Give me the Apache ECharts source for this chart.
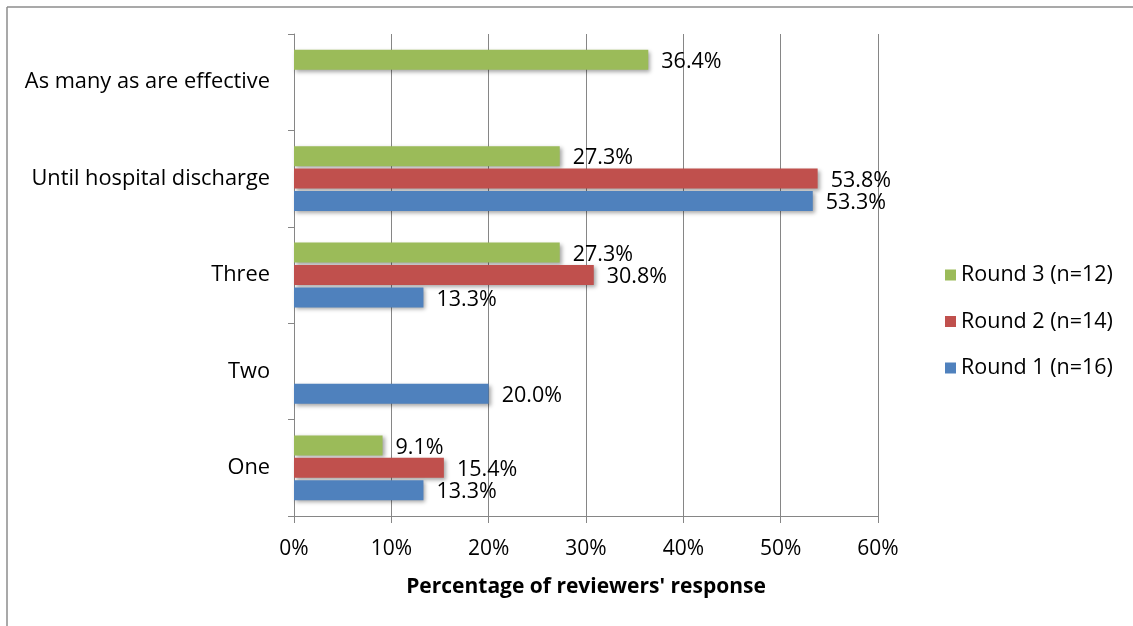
<!DOCTYPE html>
<html>
<head>
<meta charset="utf-8">
<script src="https://cdn.jsdelivr.net/npm/echarts@6/dist/echarts.min.js"></script>
<style>html,body{margin:0;padding:0;background:#fff}#c{width:1133px;height:626px}</style>
</head>
<body>
<div id="c"></div>
<script>
const categories = ['One', 'Two', 'Three', 'Until hospital discharge', 'As many as are effective'];
const round3 = [9.1, null, 27.3, 27.3, 36.4];
const round2 = [15.4, null, 30.8, 53.8, null];
const round1 = [13.3, 20.0, 13.3, 53.3, null];
const seriesNames = ['Round 3 (n=12)', 'Round 2 (n=14)', 'Round 1 (n=16)'];
const colors = ['#9BBB59', '#C0504D', '#4F81BD'];
const xTicks = { min: 0, max: 60, interval: 10 };

const FONT = 'Open Sans';
const chart = echarts.init(document.getElementById('c'));
function mk(name, data, color) {
  return {
    name: name, type: 'bar', data: data, barWidth: 20, barGap: '12%',
    itemStyle: { color: color, shadowColor: 'rgba(0,0,0,0.35)', shadowBlur: 4, shadowOffsetX: 2, shadowOffsetY: 2 },
    label: {
      show: true, position: 'right', distance: 13, offset: [0, 2], fontFamily: FONT, fontSize: 21.5, color: '#000',
      formatter: p => (p.value == null ? '' : p.value.toFixed(1) + '%')
    }
  };
}
chart.setOption({
  animation: false,
  textStyle: { fontFamily: FONT },
  graphic: [
    { type: 'line', shape: { x1: 7, y1: 7, x2: 1133, y2: 7 }, style: { stroke: '#8c8c8c', lineWidth: 1.5 } },
    { type: 'line', shape: { x1: 7, y1: 7, x2: 7, y2: 626 }, style: { stroke: '#8c8c8c', lineWidth: 1.5 } }
  ],
  grid: { left: 294, right: 255, top: 34, bottom: 110, containLabel: false },
  legend: {
    orient: 'vertical', left: 940, top: 259, itemWidth: 11, itemHeight: 11, itemGap: 24.5, itemTextGap: 7,
    icon: 'rect', textStyle: { fontFamily: FONT, fontSize: 21.5, color: '#000' },
    data: seriesNames
  },
  xAxis: {
    type: 'value', min: xTicks.min, max: xTicks.max, interval: xTicks.interval,
    axisLine: { show: true, lineStyle: { color: '#868686' } },
    axisTick: { show: true, length: 7, lineStyle: { color: '#868686' } },
    splitLine: { show: true, lineStyle: { color: '#868686' } },
    axisLabel: { formatter: '{value}%', fontFamily: FONT, fontSize: 21, color: '#000', margin: 23 },
    name: "Percentage of reviewers' response", nameLocation: 'middle', nameGap: 61,
    nameTextStyle: { fontFamily: FONT, fontSize: 21, fontWeight: 'bold', color: '#000' }
  },
  yAxis: {
    type: 'category', data: categories,
    axisLine: { show: true, lineStyle: { color: '#868686' } },
    axisTick: { show: true, length: 6, lineStyle: { color: '#868686' } },
    axisLabel: { fontFamily: FONT, fontSize: 21.8, color: '#000', margin: 24 }
  },
  series: [mk(seriesNames[0], round3, colors[0]), mk(seriesNames[1], round2, colors[1]), mk(seriesNames[2], round1, colors[2])]
});
</script>
</body>
</html>
